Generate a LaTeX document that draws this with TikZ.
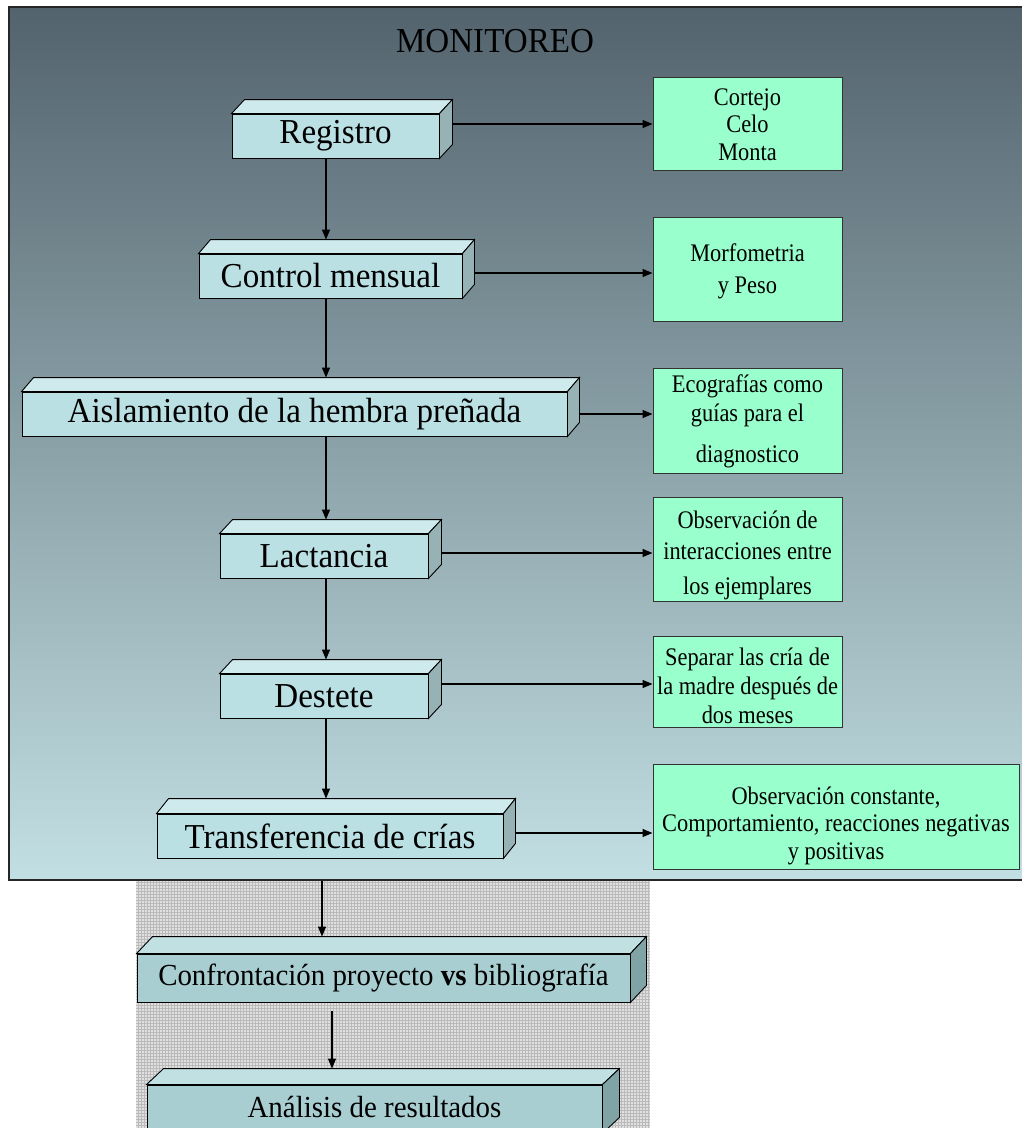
\documentclass[tikz,border=0pt]{standalone}
\usepackage{fontspec}
\setmainfont{Liberation Serif}
\newfontfamily\boxfont[FakeStretch=0.945]{Liberation Serif}
\newfontfamily\grfont[FakeStretch=0.885]{Liberation Serif}
\usetikzlibrary{arrows.meta,calc}
\definecolor{bgtop}{RGB}{83,99,109}
\definecolor{bgbot}{RGB}{194,223,227}
\definecolor{cfront}{RGB}{186,224,228}
\definecolor{ctop}{RGB}{206,234,237}
\definecolor{cside}{RGB}{150,178,181}
\definecolor{dfront}{RGB}{168,206,209}
\definecolor{dtop}{RGB}{192,224,226}
\definecolor{dside}{RGB}{128,164,166}
\definecolor{gfill}{RGB}{153,255,204}
\definecolor{hatchbg}{RGB}{224,224,224}
\definecolor{hatchln}{RGB}{186,186,186}
\newcommand{\mycube}[5]{%
  \filldraw[draw=black, line width=0.9pt, fill=#4] (#1.north west) -- ++(#2,-#3) -- ($(#1.north east)+(#2,-#3)$) -- (#1.north east) -- cycle;
  \filldraw[draw=black, line width=0.9pt, fill=#5] (#1.north east) -- ++(#2,-#3) -- ($(#1.south east)+(#2,-#3)$) -- (#1.south east) -- cycle;
  \coordinate (#1-top) at ($(#1.north)+(0,-#3)$);
}
\tikzset{
  cubefront/.style={draw=black, line width=0.9pt, fill=cfront, minimum height=44pt, inner sep=0pt, font=\boxfont\fontsize{35}{38}\selectfont},
  lowfront/.style={cubefront, fill=dfront, minimum height=48pt, font=\boxfont\fontsize{30.6}{33}\selectfont},
  greenbox/.style={draw=black!80, line width=1pt, fill=gfill, inner sep=0pt},
  gtext/.style={align=center, inner sep=0pt},
  arr/.style={line width=1.3pt, -{Triangle[length=10pt,width=8pt]}},
}
\begin{document}
\begin{tikzpicture}[x=1pt,y=-1pt]
\useasboundingbox (0,0) rectangle (1022,1128);
\fill[white] (0,0) rectangle (1022,1128);
% hatched area below the frame
\fill[hatchbg] (136,880) rectangle (650,1130);
\draw[hatchln, line width=0.5pt, step=3pt] (136,880) grid (650,1130);
% monitoring frame
\shade[top color=bgtop, bottom color=bgbot] (9,7) rectangle (1030,880);
\draw[black!85, line width=1.3pt] (9,7) rectangle (1030,880);
\node[font=\boxfont\fontsize{35}{38}\selectfont] (title) at (495,41) {MONITOREO};

% main boxes
\node[cubefront, minimum width=207pt] (reg) at (335.5,136) {Registro};
\mycube{reg}{13}{14}{ctop}{cside}
\node[cubefront, minimum width=263pt] (ctl) at (330.5,276) {Control mensual};
\mycube{ctl}{12}{14}{ctop}{cside}
\node[cubefront, minimum width=545pt] (ais) at (294.5,414) {Aislamiento de la hembra preñada};
\mycube{ais}{12}{14}{ctop}{cside}
\node[cubefront, minimum width=208pt] (lac) at (324,556) {Lactancia};
\mycube{lac}{13}{14}{ctop}{cside}
\node[cubefront, minimum width=208pt] (des) at (324,696) {Destete};
\mycube{des}{13}{14}{ctop}{cside}
\node[cubefront, minimum width=346pt] (tra) at (330,836) {Transferencia de crías};
\mycube{tra}{12}{15}{ctop}{cside}
\node[lowfront, minimum width=493pt] (con) at (383.5,978) {Confrontación proyecto \textbf{vs} bibliografía};
\mycube{con}{16}{17}{dtop}{dside}
\node[lowfront, minimum width=455pt, text height=27pt, text depth=10pt] (ana) at (374.5,1109) {Análisis de resultados};
\mycube{ana}{17}{16}{dtop}{dside}

% green boxes
\node[greenbox, minimum width=189pt, minimum height=93pt] (g1) at (747.5,123.5) {};
\node[gtext, font=\grfont\fontsize{25.3}{27.5}\selectfont] (g1t) at ([yshift=-1pt]g1.center) {Cortejo\\Celo\\Monta};
\node[greenbox, minimum width=189pt, minimum height=104pt] (g2) at (747.5,269) {};
\node[gtext, font=\grfont\fontsize{25.3}{32}\selectfont] (g2t) at ([yshift=-2pt]g2.center) {Morfometria\\y Peso};
\node[greenbox, minimum width=189pt, minimum height=105pt] (g3) at (747.5,420.5) {};
\node[gtext, font=\grfont\fontsize{25.3}{29}\selectfont] (g3t) at ([yshift=-1pt]g3.center) {Ecografías como\\guías para el\\[12pt]diagnostico};
\node[greenbox, minimum width=189pt, minimum height=104pt] (g4) at (747.5,549) {};
\node[gtext, font=\grfont\fontsize{25.3}{31}\selectfont] (g4t) at ([yshift=-6pt]g4.center) {Observación de\\interacciones entre\\[4pt]los ejemplares};
\node[greenbox, minimum width=189pt, minimum height=91pt] (g5) at (747.5,681.5) {};
\node[gtext, font=\grfont\fontsize{25.3}{29}\selectfont] (g5t) at ([yshift=-4pt]g5.center) {Separar las cría de\\la madre después de\\dos meses};
\node[greenbox, minimum width=366pt, minimum height=105pt] (g6) at (836,816.5) {};
\node[gtext, font=\grfont\fontsize{25.3}{27.5}\selectfont] (g6t) at ([yshift=-9pt]g6.center) {Observación constante,\\Comportamiento, reacciones negativas\\y positivas};

% horizontal arrows
\path (reg.east) ++(13,-12) coordinate (reg-r);
\draw[arr] (reg-r) -- (reg-r -| g1.west);
\path (ctl.east) ++(12,-3) coordinate (ctl-r);
\draw[arr] (ctl-r) -- (ctl-r -| g2.west);
\path (ais.east) ++(12,0) coordinate (ais-r);
\draw[arr] (ais-r) -- (ais-r -| g3.west);
\path (lac.east) ++(13,-3) coordinate (lac-r);
\draw[arr] (lac-r) -- (lac-r -| g4.west);
\path (des.east) ++(13,-12) coordinate (des-r);
\draw[arr] (des-r) -- (des-r -| g5.west);
\path (tra.east) ++(12,-3) coordinate (tra-r);
\draw[arr] (tra-r) -- (tra-r -| g6.west);

% vertical arrows
\coordinate (vx) at (326,0);
\draw[arr] (reg.south -| vx) -- (ctl-top -| vx);
\draw[arr] (ctl.south -| vx) -- (ais-top -| vx);
\draw[arr] (ais.south -| vx) -- (lac-top -| vx);
\draw[arr] (lac.south -| vx) -- (des-top -| vx);
\draw[arr] (des.south -| vx) -- (tra-top -| vx);
\coordinate (fb) at (322,881);
\draw[arr] (fb) -- (con-top -| fb);
\coordinate (vx2) at (332,1011);
\draw[arr] (vx2) -- (ana-top -| vx2);
\end{tikzpicture}
\end{document}
